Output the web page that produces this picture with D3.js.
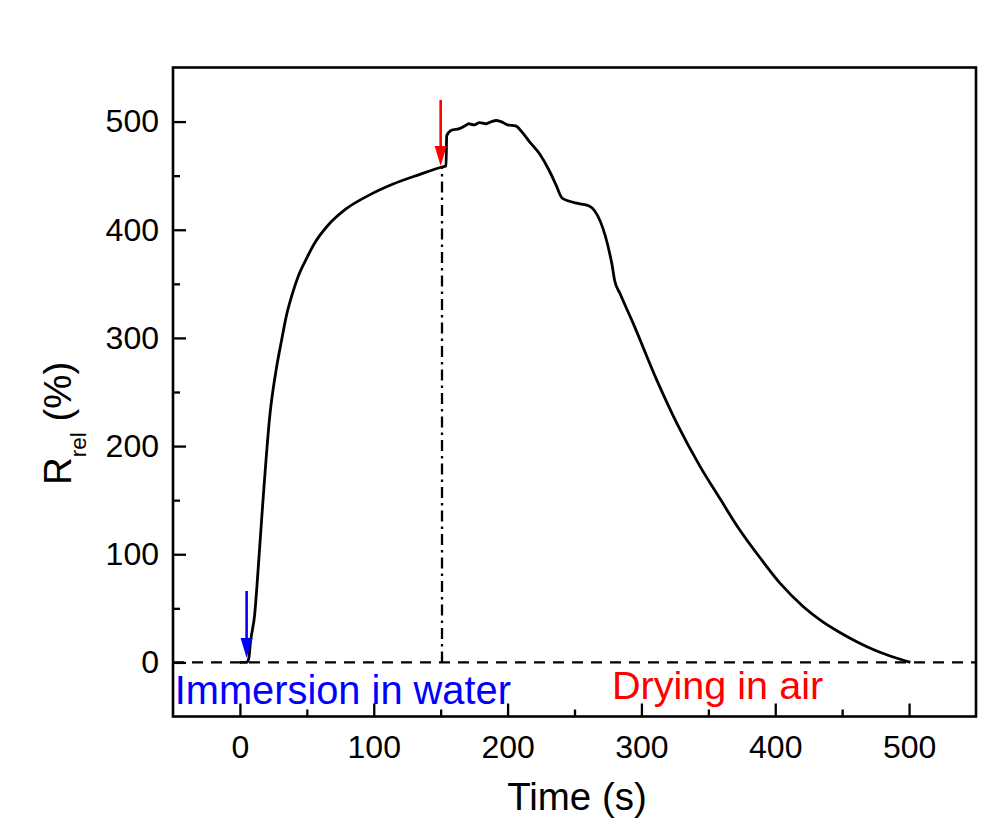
<!DOCTYPE html>
<html>
<head>
<meta charset="utf-8">
<script src="https://cdn.jsdelivr.net/npm/d3@7"></script>
<style>
  body { margin: 0; background: #fff; }
  svg { display: block; }
</style>
</head>
<body>
<svg width="981" height="823"></svg>
<script>
// time (s) and relative resistance change (%)
const time = [0, 5, 6.5, 8, 11, 14, 16.5, 22.5, 27, 31, 35, 39, 43.6, 50, 56, 65, 79, 96.6, 114, 134, 151,
  154, 154.5, 158, 164, 168, 171, 175, 179, 184, 188, 191.5, 195, 200, 206, 211, 216, 224, 231, 236, 241,
  254, 261, 278, 280, 284, 294, 311.5, 326.5, 343.9, 358.9, 372.6, 389.7, 403.7, 421, 435, 448.6, 462, 475, 488, 501];
const rrel = [0, 0, 3, 20, 44, 93, 137, 230, 270, 297, 322, 340, 357, 374, 388, 403, 419, 432, 442, 451, 458,
  459, 487, 492, 493.5, 496, 498, 497, 499, 498, 500, 501, 500, 497, 496, 490, 482, 470, 455, 442, 429,
  424, 422, 368, 353, 341, 313, 261, 221, 181, 151, 124, 95, 73, 51.5, 38, 27.5, 18.5, 11, 5, 0];

const xTicks = [0, 100, 200, 300, 400, 500];
const xMinor = [50, 150, 250, 350, 450];
const yTicks = [0, 100, 200, 300, 400, 500];
const yMinor = [50, 150, 250, 350, 450];

const switchTime = 151;          // end of immersion (dash-dot line)
const arrowTime = [5, 150];      // blue, red arrows
const arrowFrom = [66, 520];
const arrowTo = [4, 459];
const arrowColor = ["#0000ff", "#ff0000"];

const svg = d3.select("svg");
const font = "Arial, 'Liberation Sans', sans-serif";

const x = d3.scaleLinear().domain([-50, 550]).range([173, 976]);
const y = d3.scaleLinear().domain([-50, 550]).range([716.5, 67.5]);

// zero line
svg.append("line")
  .attr("x1", x(-50)).attr("x2", x(550))
  .attr("y1", y(0)).attr("y2", y(0))
  .attr("stroke", "#000").attr("stroke-width", 2.3)
  .attr("stroke-dasharray", "11,8");

// dash-dot line at the switch
svg.append("line")
  .attr("x1", x(switchTime)).attr("x2", x(switchTime))
  .attr("y1", y(0)).attr("y2", y(458))
  .attr("stroke", "#000").attr("stroke-width", 2.3)
  .attr("stroke-dasharray", "11,5,2.5,5");

// curve
const pts = time.map((t, i) => [t, rrel[i]]);
svg.append("path")
  .datum(pts)
  .attr("fill", "none")
  .attr("stroke", "#000")
  .attr("stroke-width", 2.8)
  .attr("stroke-linejoin", "round")
  .attr("d", d3.line().curve(d3.curveMonotoneX).x(d => x(d[0])).y(d => y(d[1])));

// arrows
arrowTime.forEach((t, i) => {
  const ax = x(t), y0 = y(arrowFrom[i]), y1 = y(arrowTo[i]);
  svg.append("line")
    .attr("x1", ax).attr("x2", ax)
    .attr("y1", y0).attr("y2", y1 - 16)
    .attr("stroke", arrowColor[i]).attr("stroke-width", 2.6);
  svg.append("path")
    .attr("d", `M${ax - 6},${y1 - 20} L${ax + 6},${y1 - 20} L${ax},${y1} Z`)
    .attr("fill", arrowColor[i]);
});

// axes, ticks pointing inward
const xAxis = d3.axisBottom(x).tickValues(xTicks).tickSizeInner(-13).tickSizeOuter(0).tickPadding(19);
const xAxisMinor = d3.axisBottom(x).tickValues(xMinor).tickSizeInner(-7).tickSizeOuter(0).tickFormat("");
const yAxis = d3.axisLeft(y).tickValues(yTicks).tickSizeInner(-13).tickSizeOuter(0).tickPadding(14);
const yAxisMinor = d3.axisLeft(y).tickValues(yMinor).tickSizeInner(-7).tickSizeOuter(0).tickFormat("");

[[xAxis, 716.5], [xAxisMinor, 716.5]].forEach(([ax, ty]) => {
  svg.append("g").attr("transform", "translate(0," + ty + ")").call(ax);
});
[[yAxis, 173], [yAxisMinor, 173]].forEach(([ax, tx]) => {
  svg.append("g").attr("transform", "translate(" + tx + ",0)").call(ax);
});
svg.selectAll(".domain").remove();
svg.selectAll(".tick line").attr("stroke", "#000").attr("stroke-width", 2.3);
svg.selectAll(".tick text")
  .style("font-family", font)
  .style("font-size", "32px")
  .attr("fill", "#000");

// frame
svg.append("rect")
  .attr("x", x(-50)).attr("y", y(550))
  .attr("width", x(550) - x(-50)).attr("height", y(-50) - y(550))
  .attr("fill", "none").attr("stroke", "#000").attr("stroke-width", 2.6);

// annotations
svg.append("text")
  .attr("x", x(-48.7)).attr("y", y(-38))
  .attr("fill", "#0000ff")
  .style("font-family", font).style("font-size", "39.8px")
  .text("Immersion in water");
svg.append("text")
  .attr("x", x(278)).attr("y", y(-33.5))
  .attr("fill", "#ff0000")
  .style("font-family", font).style("font-size", "39.6px")
  .text("Drying in air");

// axis titles
svg.append("text")
  .attr("x", 577).attr("y", 810)
  .attr("text-anchor", "middle")
  .style("font-family", font).style("font-size", "38.5px")
  .text("Time (s)");

const yt = svg.append("text")
  .attr("transform", "translate(71,485) rotate(-90)")
  .style("font-family", font).style("font-size", "38.5px");
yt.append("tspan").text("R");
yt.append("tspan").attr("dy", 15).style("font-size", "22.5px").text("rel");
yt.append("tspan").attr("dy", -15).text(" (%)");
</script>
</body>
</html>
